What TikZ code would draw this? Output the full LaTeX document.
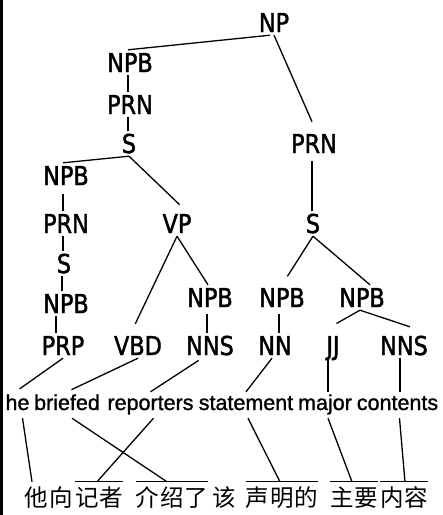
\documentclass[tikz,border=0pt]{standalone}
\usepackage{fontspec}
\setmainfont[FakeBold=1]{Liberation Sans}
\newfontfamily\wordfont[FakeBold=1.2]{Liberation Sans}
\newfontfamily\labfont[FakeStretch=0.86,FakeBold=1.6]{DejaVu Sans}
\newfontfamily\cjkfont{Noto Sans CJK SC}
\begin{document}
\begin{tikzpicture}[x=1pt,y=-1pt,
  lab/.style={font=\labfont\fontsize{26}{28}\selectfont, inner sep=3pt, text height=19pt, text depth=0pt, anchor=base},
  word/.style={font=\wordfont\fontsize{21.5}{24}\selectfont, inner xsep=0pt, inner ysep=3pt, text height=15pt, text depth=5pt, anchor=base},
  zh/.style={font=\cjkfont\fontsize{23.5}{26}\selectfont, inner sep=0pt, text height=24pt, text depth=3pt, anchor=base},
  conn/.style={line width=1.3pt}]
\useasboundingbox (0,0) rectangle (443,515);
\draw[line width=3pt] (1.5,0) -- (1.5,515);
% tree labels
\node[lab] (np) at (274,32) {NP};
\node[lab] (npb1) at (130,72) {NPB};
\node[lab] (prn1) at (130,114) {PRN};
\node[lab] (s1) at (129,153) {S};
\node[lab] (prnr) at (314,153) {PRN};
\node[lab] (npb2) at (66,185) {NPB};
\node[lab] (prn2) at (66,233) {PRN};
\node[lab] (vp) at (177,233) {VP};
\node[lab] (sr) at (313,233) {S};
\node[lab] (s3) at (64,273) {S};
\node[lab] (npb3) at (66,313) {NPB};
\node[lab] (npb4) at (210,307) {NPB};
\node[lab] (npb5) at (282,307) {NPB};
\node[lab] (npb6) at (362,307) {NPB};
\node[lab] (prp) at (63,355) {PRP};
\node[lab] (vbd) at (138,355) {VBD};
\node[lab] (nns1) at (210,355) {NNS};
\node[lab] (nn) at (275,355) {NN};
\node[lab] (jj) at (333,355) {JJ};
\node[lab] (nns2) at (404,355) {NNS};
% English words
\node[word] (he) at (17.5,410) {he};
\node[word] (briefed) at (67,410) {briefed};
\node[word] (reporters) at (150.5,410) {reporters};
\node[word] (statement) at (246,410) {statement};
\node[word] (major) at (325,410) {major};
\node[word] (contents) at (397.5,410) {contents};
% Chinese words
\node[zh] (ta) at (36,506) {他};
\node[zh] (xiang) at (61,506) {向};
\node[zh] (jizhe) at (99,506) {记\hspace{1pt}者};
\node[zh] (jieshao) at (172,506) {介\hspace{1pt}绍\hspace{1pt}了};
\node[zh] (gai) at (224,506) {该};
\node[zh] (shengming) at (282,506) {声\hspace{1pt}明\hspace{1pt}的};
\node[zh] (zhuyao) at (354,506) {主\hspace{1pt}要};
\node[zh] (neirong) at (404,506) {内\hspace{1pt}容};
\foreach \g in {jizhe,jieshao,shengming,zhuyao,neirong}
  \draw[conn] (\g.north west) -- (\g.north east);
% tree edges
\draw[conn] ([xshift=-4pt]np.south) -- ([xshift=-2pt]npb1.north);
\draw[conn, shorten >=10pt] (np.south) -- ([xshift=2pt]prnr.north);
\draw[conn] ([xshift=-2pt]npb1.south) -- ([xshift=-2pt]npb1.south |- prn1.north);
\draw[conn] ([xshift=-2pt]prn1.south) -- ([xshift=-2pt]prn1.south |- s1.north);
\draw[conn] (s1.south) -- ([xshift=-3pt]npb2.north);
\draw[conn, shorten >=9pt] (s1.south) -- ([xshift=9pt]vp.north);
\draw[conn, shorten <=5pt] ([xshift=-2pt]prnr.south) -- ([xshift=-2pt]prnr.south |- sr.north);
\draw[conn, shorten <=6pt] ([xshift=-3pt]npb2.south) -- ([xshift=-3pt]npb2.south |- prn2.north);
\draw[conn] ([xshift=-3pt]prn2.south) -- ([xshift=-3pt]prn2.south |- s3.north);
\draw[conn] ([xshift=-2pt]s3.south) -- ([xshift=-2pt]s3.south |- npb3.north);
\draw[conn] ([xshift=-10pt]npb3.south) -- ([xshift=-10pt]npb3.south |- prp.north);
\draw[conn, shorten >=10pt] (vp.south) -- ([xshift=-7pt]vbd.north);
\draw[conn] (vp.south) -- ([xshift=-2pt]npb4.north);
\draw[conn, shorten >=10pt] (sr.south) -- (npb5.north);
\draw[conn] (sr.south) -- ([xshift=8pt]npb6.north);
\draw[conn, shorten <=4pt] ([xshift=-3pt]npb4.south) -- ([xshift=-3pt]npb4.south |- nns1.north);
\draw[conn, shorten <=4pt] ([xshift=-3pt]npb5.south) -- ([xshift=-3pt]npb5.south |- nn.north);
\draw[conn, shorten >=19pt] ([xshift=-2pt]npb6.south) -- ([xshift=-13pt]jj.north);
\draw[conn, shorten >=19pt] ([xshift=-2pt]npb6.south) -- ([xshift=24pt]nns2.north);
% POS to words
\draw[conn, shorten >=5pt] (prp.south) -- ([xshift=-2pt]he.north);
\draw[conn, shorten >=5pt] (vbd.south) -- (briefed.north);
\draw[conn, shorten <=4pt] ([xshift=-8pt]nns1.south) -- (reporters.north);
\draw[conn] ([xshift=-3pt]nn.south) -- (statement.north);
\draw[conn] ([xshift=-5pt]jj.south) -- ([xshift=-5pt]jj.south |- major.north);
\draw[conn] ([xshift=-4pt]nns2.south) -- ([xshift=-4pt]nns2.south |- contents.north);
% words to Chinese
\draw[conn] ([xshift=5pt]he.south) -- ([xshift=-4pt]ta.north);
\draw[conn] ([xshift=5pt]briefed.south) -- ([xshift=-5pt]jieshao.north);
\draw[conn] ([xshift=3pt]reporters.south) -- ([xshift=-2pt]jizhe.north);
\draw[conn] ([xshift=2pt]statement.south) -- ([xshift=-2pt]shengming.north);
\draw[conn] ([xshift=3pt]major.south) -- ([xshift=-2pt]zhuyao.north);
\draw[conn] ([xshift=2pt]contents.south) -- ([xshift=1pt]neirong.north);
\end{tikzpicture}
\end{document}
